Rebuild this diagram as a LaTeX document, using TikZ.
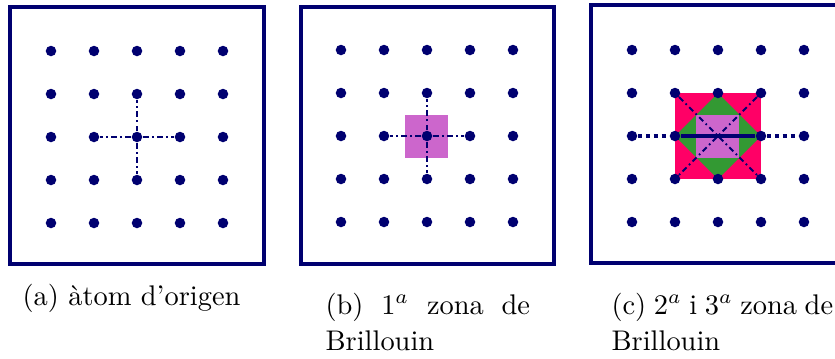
\documentclass[tikz,border=0pt]{standalone}
\usepackage{tikz}
\usetikzlibrary{calc}
\usetikzlibrary{backgrounds}
\definecolor{dotblue}{RGB}{0,0,112}
\definecolor{zoneone}{RGB}{204,102,204}
\definecolor{zonetwo}{RGB}{51,153,51}
\definecolor{zonethree}{RGB}{255,0,102}

\begin{document}
\begin{tikzpicture}[x=0.352pt, y=-0.352pt,
    atom/.style={circle, fill=dotblue, inner sep=0pt, minimum size=3.7pt},
    frame/.style={draw=dotblue, line width=1.4pt},
    link/.style={dotblue, line width=0.65pt, dash pattern=on 2pt off 1.2pt on 0.6pt off 1.2pt},
    farlink/.style={dotblue, line width=1.1pt, dash pattern=on 1.6pt off 1.2pt},
    caption/.style={font=\fontsize{10}{13}\selectfont, inner sep=0pt, anchor=base west}]
    \useasboundingbox (0,0) rectangle (835,358);
    \clip (0,0) rectangle (835,358);

    % (a) origin atom
    \draw[frame] (10,7) rectangle (264,264);
    \foreach \i in {1,...,5}
        \foreach \j in {1,...,5}
            \node[atom] (a\i\j) at ({8+43*\i},{8+43*\j}) {};
    \draw[link] (a33) -- (a23);
    \draw[link] (a33) -- (a43);
    \draw[link] (a33) -- (a32);
    \draw[link] (a33) -- (a34);

    % (b) first zone
    \draw[frame] (301,7) rectangle (554,264);
    \foreach \i in {1,...,5}
        \foreach \j in {1,...,5}
            \node[atom] (b\i\j) at ({298+43*\i},{7+43*\j}) {};
    \begin{scope}[on background layer]
        \fill[zoneone] ($(b22)!0.5!(b33)$) rectangle ($(b33)!0.5!(b44)$);
    \end{scope}
    \draw[link] (b33) -- (b23);
    \draw[link] (b33) -- (b43);
    \draw[link] (b33) -- (b32);
    \draw[link] (b33) -- (b34);

    % (c) second and third zones
    \draw[frame] (591,5) rectangle (844,263);
    \foreach \i in {1,...,5}
        \foreach \j in {1,...,5}
            \node[atom] (c\i\j) at ({589+43*\i},{7+43*\j}) {};
    \begin{scope}[on background layer]
        \fill[zonethree] (c22.center) rectangle (c44.center);
        \fill[zonetwo] (c23.center) -- (c32.center) -- (c43.center) -- (c34.center) -- cycle;
    \end{scope}
    \fill[zoneone] ($(c22)!0.5!(c33)$) rectangle ($(c33)!0.5!(c44)$);
    \draw[link] (c22) -- (c44);
    \draw[link] (c42) -- (c24);
    \draw[farlink] (c13) -- (c23);
    \draw[dotblue, line width=1.1pt] (c23) -- (c43);
    \draw[farlink] (c43) -- (c53);

    % captions
    \node[caption] (capa) at (22,305) {(a) àtom d'origen};
    \node[caption, text width=72pt, align=justify] (capb) at (325,314) {(b) 1$^a$ zona de Brillouin};
    \node[caption, text width=78pt, align=justify] (capc) at (611,314) {(c) 2$^a$ i 3$^a$ zona de Brillouin};
\end{tikzpicture}
\end{document}
